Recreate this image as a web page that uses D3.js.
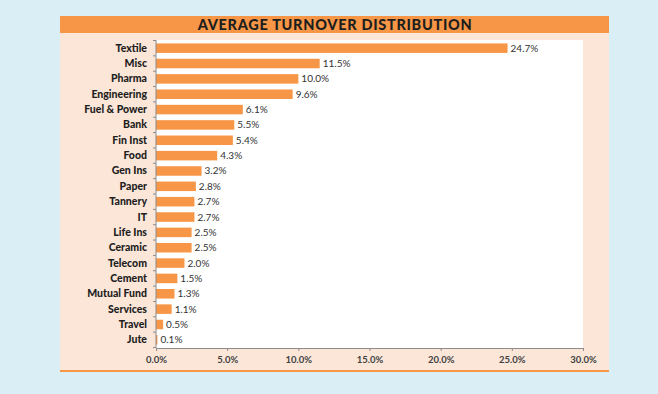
<!DOCTYPE html>
<html>
<head>
<meta charset="utf-8">
<script src="https://cdn.jsdelivr.net/npm/d3@7"></script>
<style>
  body { margin: 0; background: #d9eef5; }
  svg { display: block; }
  text { font-family: Lato, "Open Sans", sans-serif; }
</style>
</head>
<body>
<svg id="chart" width="658" height="394"></svg>
<script>
const categories = ["Textile", "Misc", "Pharma", "Engineering", "Fuel & Power", "Bank", "Fin Inst", "Food",
  "Gen Ins", "Paper", "Tannery", "IT", "Life Ins", "Ceramic", "Telecom", "Cement", "Mutual Fund",
  "Services", "Travel", "Jute"];
const values = [24.7, 11.5, 10.0, 9.6, 6.1, 5.5, 5.4, 4.3, 3.2, 2.8, 2.7, 2.7, 2.5, 2.5, 2.0, 1.5, 1.3, 1.1, 0.5, 0.1];
const xTicks = [0, 5, 10, 15, 20, 25, 30];
const title = "AVERAGE TURNOVER DISTRIBUTION";

const orange = "#f79646";
const svg = d3.select("#chart");

// panel
svg.append("rect").attr("x", 60).attr("y", 16).attr("width", 549).attr("height", 355).attr("fill", "#fce6d8");
svg.append("rect").attr("x", 60).attr("y", 16).attr("width", 549).attr("height", 17).attr("fill", orange);
svg.append("rect").attr("x", 60).attr("y", 370).attr("width", 549).attr("height", 2).attr("fill", orange);
svg.append("text").attr("x", 335).attr("y", 29.5).attr("text-anchor", "middle")
  .attr("font-size", 14.5).attr("font-weight", 900).attr("letter-spacing", 0.7)
  .attr("fill", "#1e1e1e").text(title);

const x = d3.scaleLinear().domain([0, 30]).range([156, 583]);
const y = d3.scaleBand().domain(categories).range([40.5, 347.5]).paddingInner(0.38).paddingOuter(0.19);

svg.append("rect").attr("x", x(0)).attr("y", 40).attr("width", x(30) - x(0)).attr("height", 308).attr("fill", "#fff");

const data = categories.map((c, i) => ({ cat: c, val: values[i] }));

svg.selectAll(".bar").data(data).enter().append("rect")
  .attr("x", x(0)).attr("y", d => y(d.cat))
  .attr("width", d => x(d.val) - x(0)).attr("height", y.bandwidth())
  .attr("fill", orange);

svg.selectAll(".val").data(data).enter().append("text")
  .attr("x", d => x(d.val) + 3).attr("y", d => y(d.cat) + y.bandwidth() / 2 + 3.5)
  .attr("font-size", 10).attr("fill", "#333").text(d => d.val.toFixed(1) + "%");

// y axis with boundary ticks
const yAxis = svg.append("g");
yAxis.append("line").attr("x1", x(0)).attr("x2", x(0)).attr("y1", 40).attr("y2", 348)
  .attr("stroke", "#8c8c8c");
const step = y.step();
yAxis.selectAll(".yt").data(d3.range(categories.length + 1)).enter().append("line")
  .attr("x1", x(0) - 3).attr("x2", x(0))
  .attr("y1", i => 40.5 + i * step).attr("y2", i => 40.5 + i * step)
  .attr("stroke", "#8c8c8c");
yAxis.selectAll(".lab").data(categories).enter().append("text")
  .attr("x", 147).attr("y", d => y(d) + y.bandwidth() / 2 + 3.5)
  .attr("text-anchor", "end").attr("font-size", 10.5).attr("font-weight", 900).attr("fill", "#1e1e1e")
  .text(d => d);

// x axis
const xAxis = svg.append("g").attr("transform", "translate(0,348)")
  .call(d3.axisBottom(x).tickValues(xTicks).tickSize(3).tickFormat(d => d.toFixed(1) + "%"));
xAxis.select(".domain").attr("stroke", "#8c8c8c");
xAxis.selectAll(".tick line").attr("stroke", "#8c8c8c");
xAxis.selectAll(".tick text").attr("font-family", "Lato, sans-serif").attr("font-size", 9.5)
  .attr("font-weight", 700).attr("fill", "#404040").attr("dy", "0.9em");
</script>
</body>
</html>
